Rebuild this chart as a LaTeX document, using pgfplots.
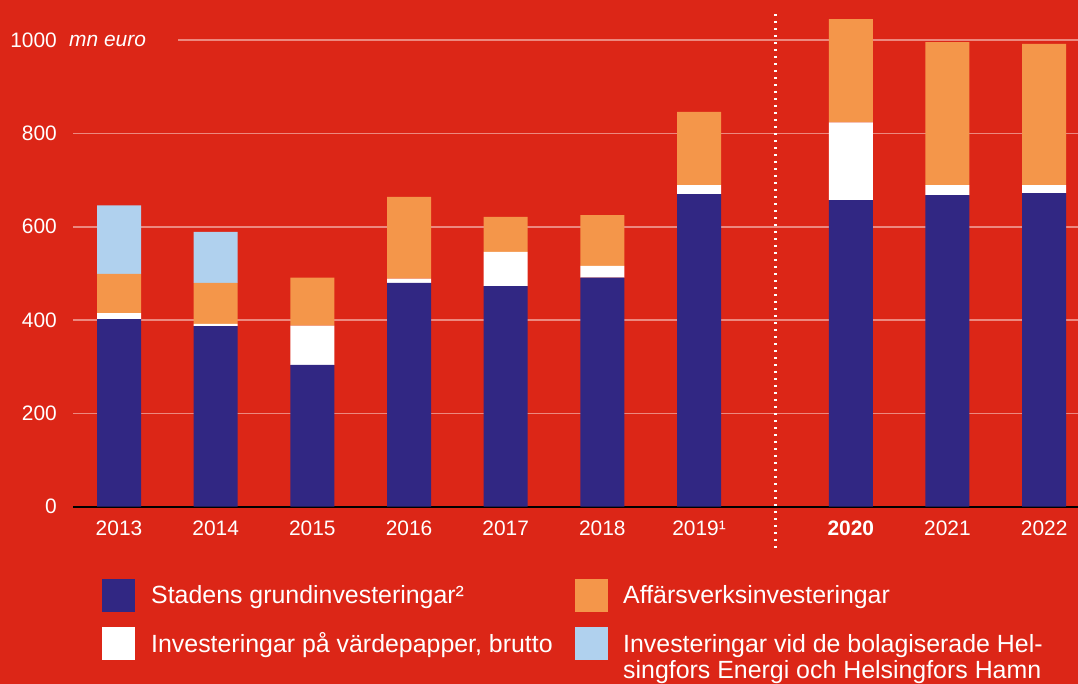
\documentclass[border=0pt]{standalone}
\usepackage{pgfplots}
\pgfplotsset{compat=1.18}
\usepackage{pgfplotstable}
\usepackage{fontspec}
\setmainfont{Liberation Sans}
\definecolor{bgred}{HTML}{DC2617}
\definecolor{cblue}{HTML}{312783}
\definecolor{corange}{HTML}{F4964A}
\definecolor{clblue}{HTML}{B0D1EE}
\definecolor{gridc}{HTML}{EC887F}
\pgfplotstableread{
x b w o l
0 402 13 84 147
1 387 5 88 109
2 304 84 103 0
3 480 9 175 0
4 473 73 75 0
5 491 25 109 0
6 670 19 157 0
7.57 657 167 221 0
8.57 668 21 307 0
9.57 672 17 303 0
}\data
\begin{document}
\begin{tikzpicture}
\fill[bgred] (0,0) rectangle (1078bp,684bp);
\begin{axis}[
  at={(73bp,177.3bp)}, anchor=south west, scale only axis,
  width=1005bp, height=493.6bp,
  xmin=-0.476, xmax=9.92, ymin=0, ymax=1058,
  axis line style={draw=none},
  tick style={draw=none},
  major tick length=0pt,
  ymajorgrids, major grid style={gridc, line width=1.5bp},
  ybar stacked, bar width=0.455,
  xtick={0,1,2,3,4,5,6,7.57,8.57,9.57},
  xticklabels={2013,2014,2015,2016,2017,2018,2019¹,\textbf{2020},2021,2022},
  ytick={0,200,400,600,800,1000},
  /pgf/number format/1000 sep={},
  /pgf/number format/assume math mode=true,
  tick label style={font=\fontsize{21}{25}\selectfont, text=white},
  xticklabel style={anchor=base, inner sep=0pt, yshift=-29.3bp},
  yticklabel style={anchor=east, inner sep=0pt, xshift=-16bp},
  clip=false,
]
\addplot[fill=cblue, draw=none] table[x=x, y=b] {\data};
\addplot[fill=white, draw=none] table[x=x, y=w] {\data};
\addplot[fill=corange, draw=none] table[x=x, y=o] {\data};
\addplot[fill=clblue, draw=none] table[x=x, y=l] {\data};
\draw[black, line width=2bp] (-0.476,0) -- (9.92,0);
\draw[white, line width=2.3bp, dash pattern=on 2.3bp off 4.7bp] (6.79,-88.5) -- (6.79,1058);
\end{axis}
\fill[bgred] (72bp,640bp) rectangle (178bp,648bp);
\node[anchor=base west, inner sep=0pt, text=white, font=\fontsize{21}{25}\selectfont\itshape] at (69bp,637bp) {mn euro};
\fill[cblue] (102bp,72bp) rectangle (135bp,105bp);
\fill[white] (102bp,24bp) rectangle (135bp,57bp);
\fill[corange] (575bp,72bp) rectangle (608bp,105bp);
\fill[clblue] (575bp,24bp) rectangle (608bp,57bp);
\begin{scope}[every node/.style={anchor=base west, inner sep=0pt, text=white, font=\fontsize{25}{26}\selectfont}]
\node at (151bp,80bp) {Stadens grundinvesteringar²};
\node at (151bp,32bp) {Investeringar på värdepapper, brutto};
\node at (623bp,80bp) {Affärsverksinvesteringar};
\node at (623bp,32bp) {Investeringar vid de bolagiserade Hel-};
\node at (623bp,6bp) {singfors Energi och Helsingfors Hamn};
\end{scope}
\pgfresetboundingbox
\useasboundingbox (0,0) rectangle (1078bp,684bp);
\end{tikzpicture}
\end{document}
